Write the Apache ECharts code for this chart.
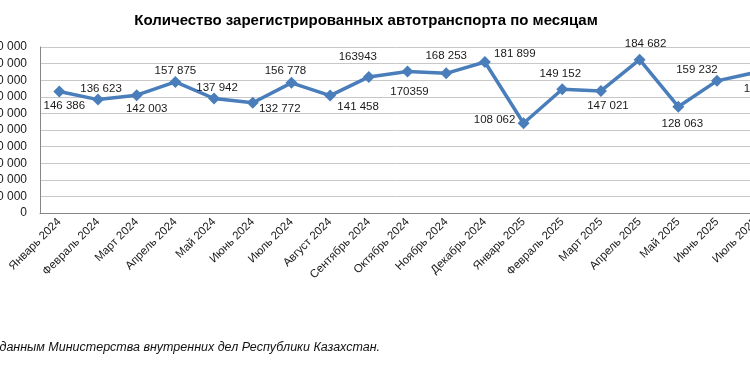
<!DOCTYPE html>
<html>
<head>
<meta charset="utf-8">
<script src="https://cdn.jsdelivr.net/npm/echarts@6/dist/echarts.min.js"></script>
<style>html,body{margin:0;padding:0;background:#fff}#c{width:750px;height:375px}</style>
</head>
<body>
<div id="c"></div>
<script>
const categories = ['Январь 2024','Февраль 2024','Март 2024','Апрель 2024','Май 2024','Июнь 2024','Июль 2024','Август 2024','Сентябрь 2024','Октябрь 2024','Ноябрь 2024','Декабрь 2024','Январь 2025','Февраль 2025','Март 2025','Апрель 2025','Май 2025','Июнь 2025','Июль 2025'];
const values = [146386,136623,142003,157875,137942,132772,156778,141458,163943,170359,168253,181899,108062,149152,147021,184682,128063,159232,169400];
const valueLabels = ['146 386','136 623','142 003','157 875','137 942','132 772','156 778','141 458','163943','170359','168 253','181 899','108 062','149 152','147 021','184 682','128 063','159 232','169 400'];
const yTicks = [0,20000,40000,60000,80000,100000,120000,140000,160000,180000,200000];
const titleText = 'Количество зарегистрированных автотранспорта по месяцам';
const sourceText = 'По данным Министерства внутренних дел Республики Казахстан.';

// label offsets relative to each marker (layout only)
const labelOffsets = [[5,14],[3,-11],[10,14],[0,-11],[3,-11],[27,6],[-6,-12],[28,11],[-11,-20],[2,20],[0,-18],[30,-8],[-29,-3],[-2,-15],[7,15],[6,-16],[4,17],[-20,-11],[9,16]];

const fmt = v => String(v).replace(/\B(?=(\d{3})+(?!\d))/g, ' ');
const font = 'Liberation Sans';

const chart = echarts.init(document.getElementById('c'), null, {renderer:'canvas'});
chart.setOption({
  animation:false,
  backgroundColor:'#fff',
  title:{text:titleText,left:361,textAlign:'center',top:8,textStyle:{fontFamily:font,fontSize:15,fontWeight:'bold',color:'#000'}},
  grid:{left:40,right:-25,top:47,bottom:162,containLabel:false,outerBoundsMode:'none'},
  xAxis:{type:'category',data:categories,boundaryGap:true,
    axisLine:{lineStyle:{color:'#868686',width:1}},axisTick:{show:false},
    axisLabel:{rotate:45,interval:0,fontFamily:font,fontSize:11.5,color:'#1a1a1a',margin:7}},
  yAxis:{type:'value',min:yTicks[0],max:yTicks[yTicks.length-1],interval:yTicks[1]-yTicks[0],
    axisLine:{show:true,lineStyle:{color:'#868686',width:1}},axisTick:{show:false},
    splitLine:{lineStyle:{color:'#c8c8c8',width:1}},
    axisLabel:{formatter:v=>fmt(v),fontFamily:font,fontSize:12,color:'#1a1a1a',margin:13}},
  series:[{type:'line',
    data:values.map((v,i)=>({value:v,label:{offset:labelOffsets[i]}})),
    symbol:'diamond',symbolSize:12,
    lineStyle:{color:'#4A7EBB',width:3.5},
    itemStyle:{color:'#4A7EBB'},
    label:{show:true,position:'inside',formatter:p=>valueLabels[p.dataIndex],fontFamily:font,fontSize:11.5,color:'#1a1a1a'}
  }],
  graphic:[{type:'text',left:-20,top:341,style:{text:sourceText,font:'italic 12.5px "Liberation Sans"',fill:'#111'}}]
});
</script>
</body>
</html>
